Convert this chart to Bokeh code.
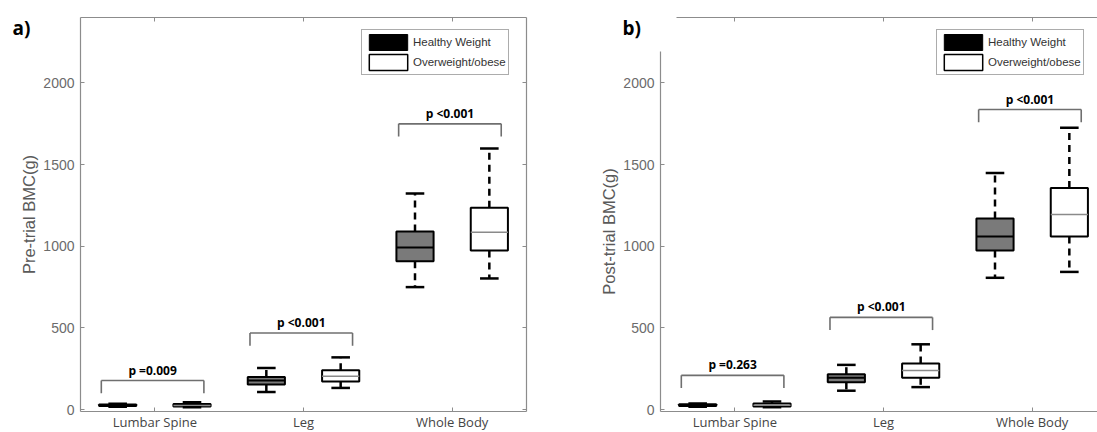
from bokeh.plotting import figure
from bokeh.models import (Range1d, FixedTicker, LinearAxis, Legend, LegendItem,
                          Label, ColumnDataSource)
from bokeh.layouts import row
from bokeh.core.properties import value
from bokeh.embed import file_html
from bokeh.resources import INLINE

# ---------------- data ----------------
categories = ["Lumbar Spine", "Leg", "Whole Body"]
y_ticks = [0, 500, 1000, 1500, 2000]
series_names = ["Healthy Weight", "Overweight/obese"]

# Pre-trial (panel a)  -- whisker low, Q1, median, Q3, whisker high
pre_hw_low = [18, 108, 750]
pre_hw_q1 = [23, 154, 909]
pre_hw_med = [27, 178, 992]
pre_hw_q3 = [31, 200, 1090]
pre_hw_high = [36, 255, 1323]

pre_ow_low = [14, 133, 803]
pre_ow_q1 = [20, 173, 974]
pre_ow_med = [26, 205, 1086]
pre_ow_q3 = [34, 241, 1235]
pre_ow_high = [45, 320, 1598]

pre_p = ["p =0.009", "p <0.001", "p <0.001"]
pre_bracket = [178, 469, 1749]

# Post-trial (panel b)
post_hw_low = [18, 116, 807]
post_hw_q1 = [23, 167, 974]
post_hw_med = [28, 196, 1060]
post_hw_q3 = [33, 217, 1170]
post_hw_high = [38, 274, 1449]

post_ow_low = [15, 138, 843]
post_ow_q1 = [20, 195, 1060]
post_ow_med = [27, 240, 1194]
post_ow_q3 = [38, 283, 1357]
post_ow_high = [50, 400, 1725]

post_p = ["p =0.263", "p <0.001", "p <0.001"]
post_bracket = [210, 565, 1837]

# ---------------- style / geometry ----------------
AXIS_GRAY = "#8c8c8c"
BOX_W = 0.25
CAP_W = 0.125
OFFSET = 0.25
BR_L, BR_R = -0.36, 0.33
BR_DROP = 78
TXT_OFF = 64
Y_LO, Y_HI = -10, 2400          # axes box limits
X_LO = 0.5
PXU_X = 446 / 3.0               # px per category unit
PXU_Y = 0.1634                  # px per data unit
TOP_PAD = 17                    # canvas space above the axes box
HEIGHT = 432
xs = list(range(1, len(categories) + 1))


def draw_series(p, offset, low, q1, med, q3, high, fill, med_color, med_width):
    xc = [x + offset for x in xs]
    src = ColumnDataSource(dict(
        x=xc, low=low, q1=q1, med=med, q3=q3, high=high,
        bl=[x - BOX_W / 2 for x in xc], br=[x + BOX_W / 2 for x in xc],
        cl=[x - CAP_W / 2 for x in xc], cr=[x + CAP_W / 2 for x in xc]))
    for a, b in (("q3", "high"), ("q1", "low")):
        p.segment(x0="x", y0=a, x1="x", y1=b, source=src, line_color="black",
                  line_width=2.5, line_dash="7 5")
    p.vbar(x="x", width=BOX_W, bottom="q1", top="q3", source=src,
           fill_color=fill, line_color="black", line_width=2)
    p.segment(x0="bl", y0="med", x1="br", y1="med", source=src,
              line_color=med_color, line_width=med_width)
    for k in ("high", "low"):
        p.segment(x0="cl", y0=k, x1="cr", y1=k, source=src,
                  line_color="black", line_width=2.5)


def draw_brackets(p, brackets, pvals):
    left = [x + BR_L for x in xs]
    right = [x + BR_R for x in xs]
    bottom = [b - BR_DROP for b in brackets]
    col = "#6f6f6f"
    p.segment(x0=left, y0=brackets, x1=right, y1=brackets, line_color=col, line_width=1.6)
    p.segment(x0=left, y0=bottom, x1=left, y1=brackets, line_color=col, line_width=1.6)
    p.segment(x0=right, y0=bottom, x1=right, y1=brackets, line_color=col, line_width=1.6)
    p.text(x=[(l + r) / 2 for l, r in zip(left, right)],
           y=[b + TXT_OFF for b in brackets], text=pvals,
           text_font=value("Open Sans"), text_font_style="bold",
           text_font_size="12px", text_color="black",
           text_align="center", text_baseline="middle")


def style_axis(ax):
    ax.axis_line_color = AXIS_GRAY
    ax.axis_line_width = 1.2
    ax.major_tick_line_color = AXIS_GRAY
    ax.major_tick_in = 4
    ax.major_tick_out = 0
    ax.minor_tick_line_color = None


def blank_labels(ax):
    ax.major_label_text_color = None
    ax.major_label_text_font_size = "1px"
    ax.major_label_standoff = 0


def make_panel(tag, ylabel, hw, ow, pvals, brackets, width, left_pad, box_w,
               has_right, left_top, top_start, legend_x, tag_x):
    x_start = X_LO - left_pad / PXU_X
    x_end = X_LO + (width - left_pad) / PXU_X
    x_box_end = X_LO + box_w / PXU_X
    y_end = Y_HI + TOP_PAD / PXU_Y
    y_start = y_end - HEIGHT / PXU_Y
    p = figure(width=width, height=HEIGHT, min_border=0, title=None,
               x_range=Range1d(x_start, x_end), y_range=Range1d(y_start, y_end),
               output_backend="svg", toolbar_location=None,
               outline_line_color=None, background_fill_color="white",
               border_fill_color="white")
    p.xgrid.visible = False
    p.ygrid.visible = False

    # bottom axis
    xa = p.xaxis[0]
    style_axis(xa)
    xa.fixed_location = Y_LO
    xa.bounds = (X_LO, x_box_end)
    xa.ticker = FixedTicker(ticks=xs)
    xa.major_label_overrides = {x: c for x, c in zip(xs, categories)}
    xa.major_label_text_font = "Open Sans"
    xa.major_label_text_font_size = "13px"
    xa.major_label_text_color = "#454545"
    xa.major_label_standoff = 2

    # left axis
    ya = p.yaxis[0]
    style_axis(ya)
    ya.fixed_location = X_LO
    ya.bounds = (Y_LO, left_top)
    ya.ticker = FixedTicker(ticks=y_ticks)
    ya.major_label_text_font = "Liberation Sans"
    ya.major_label_text_font_size = "14px"
    ya.major_label_text_color = "#6b6b6b"
    ya.major_label_standoff = 6
    ya.axis_label = ylabel
    ya.axis_label_text_font = "Liberation Sans"
    ya.axis_label_text_font_size = "16.5px"
    ya.axis_label_text_font_style = "normal"
    ya.axis_label_text_color = "#5a5a5a"
    ya.axis_label_standoff = 2

    # top frame line with inward ticks
    top = LinearAxis(ticker=FixedTicker(ticks=xs), fixed_location=Y_HI,
                     bounds=(top_start, x_box_end))
    style_axis(top)
    blank_labels(top)
    p.add_layout(top, "above")

    if has_right:
        right = LinearAxis(ticker=FixedTicker(ticks=y_ticks), fixed_location=x_box_end,
                           bounds=(Y_LO, Y_HI))
        style_axis(right)
        blank_labels(right)
        p.add_layout(right, "right")

    draw_series(p, -OFFSET, *hw, fill="#7a7a7a", med_color="black", med_width=2)
    draw_series(p, OFFSET, *ow, fill="white", med_color="#8a8a8a", med_width=1.5)
    draw_brackets(p, brackets, pvals)

    # legend swatches: hidden renderers, shown in the legend without dimming
    r1 = p.vbar(x=[1], top=[0], bottom=[0], width=0.1,
                fill_color="black", line_color="black", visible=False)
    r2 = p.vbar(x=[1], top=[0], bottom=[0], width=0.1,
                fill_color="white", line_color="black", line_width=1.5, visible=False)
    legend = Legend(items=[LegendItem(label=series_names[0], renderers=[r1]),
                           LegendItem(label=series_names[1], renderers=[r2])],
                    location=(legend_x, HEIGHT - 75), margin=0, padding=2, spacing=0,
                    glyph_width=48, glyph_height=20, label_standoff=1,
                    label_text_font="Liberation Sans", label_text_font_size="11.5px",
                    label_text_color="#333333", border_line_color="#5a5a5a",
                    border_line_width=1.5, background_fill_color="white",
                    background_fill_alpha=1.0, inactive_fill_alpha=0.0)
    p.add_layout(legend)

    p.add_layout(Label(x=tag_x, y=HEIGHT - 27, x_units="screen", y_units="screen",
                       text=tag, text_font="Open Sans", text_font_style="bold",
                       text_font_size="19px", text_color="black",
                       text_baseline="alphabetic"))
    return p


pa = make_panel("a)", "Pre-trial BMC(g)",
                (pre_hw_low, pre_hw_q1, pre_hw_med, pre_hw_q3, pre_hw_high),
                (pre_ow_low, pre_ow_q1, pre_ow_med, pre_ow_q3, pre_ow_high),
                pre_p, pre_bracket, width=590, left_pad=80, box_w=446,
                has_right=True, left_top=Y_HI, top_start=X_LO,
                legend_x=361, tag_x=12)

pb = make_panel("b)", "Post-trial BMC(g)",
                (post_hw_low, post_hw_q1, post_hw_med, post_hw_q3, post_hw_high),
                (post_ow_low, post_ow_q1, post_ow_med, post_ow_q3, post_ow_high),
                post_p, post_bracket, width=507, left_pad=70, box_w=437,
                has_right=False, left_top=2190, top_start=0.61,
                legend_x=346, tag_x=32)

layout = row(pa, pb)
open("out.html", "w").write(file_html(layout, INLINE))
